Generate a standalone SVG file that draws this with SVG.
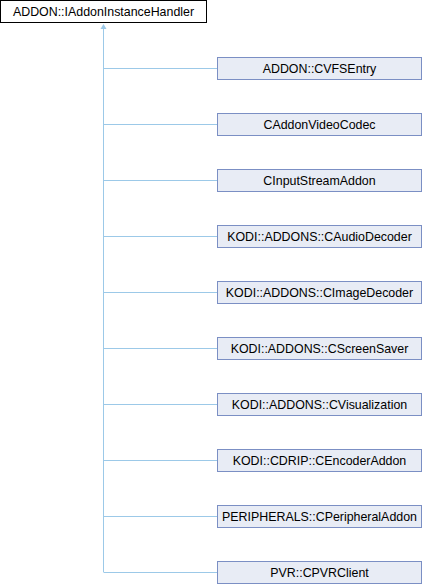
<svg xmlns="http://www.w3.org/2000/svg" width="424" height="584" viewBox="0 0 424 584">
<style>
.base rect{fill:#ffffff;stroke:#000000;stroke-width:1}
.node rect{fill:#e8ecf5;stroke:#7b8fc4;stroke-width:1}
text{font-family:"Liberation Sans",Arial,sans-serif;font-size:12.4px;fill:#000;text-anchor:middle}
.conn line{stroke:#9cc9e8;stroke-width:1}
</style>
<rect width="424" height="584" fill="#ffffff"/>
<g class="conn" id="connectors">
<line x1="103.5" y1="572" x2="103.5" y2="28"/>
<path d="M100.5,29 L103.5,24 L106.5,29 Z" fill="#9cc9e8"/>
<line x1="103.5" y1="68.5" x2="217" y2="68.5"/>
<line x1="103.5" y1="124.5" x2="217" y2="124.5"/>
<line x1="103.5" y1="180.5" x2="217" y2="180.5"/>
<line x1="103.5" y1="236.5" x2="217" y2="236.5"/>
<line x1="103.5" y1="292.5" x2="217" y2="292.5"/>
<line x1="103.5" y1="348.5" x2="217" y2="348.5"/>
<line x1="103.5" y1="404.5" x2="217" y2="404.5"/>
<line x1="103.5" y1="460.5" x2="217" y2="460.5"/>
<line x1="103.5" y1="516.5" x2="217" y2="516.5"/>
<line x1="103.5" y1="572.5" x2="217" y2="572.5"/>
</g>
<g class="base" id="n0"><rect x="0.5" y="0.5" width="206" height="22"/><text x="103.5" y="16">ADDON::IAddonInstanceHandler</text></g>
<g class="node" id="n1"><rect x="217.5" y="57.5" width="204" height="22"/><text x="319.5" y="73">ADDON::CVFSEntry</text></g>
<g class="node" id="n2"><rect x="217.5" y="113.5" width="204" height="22"/><text x="319.5" y="129">CAddonVideoCodec</text></g>
<g class="node" id="n3"><rect x="217.5" y="169.5" width="204" height="22"/><text x="319.5" y="185">CInputStreamAddon</text></g>
<g class="node" id="n4"><rect x="217.5" y="225.5" width="204" height="22"/><text x="319.5" y="241">KODI::ADDONS::CAudioDecoder</text></g>
<g class="node" id="n5"><rect x="217.5" y="281.5" width="204" height="22"/><text x="319.5" y="297">KODI::ADDONS::CImageDecoder</text></g>
<g class="node" id="n6"><rect x="217.5" y="337.5" width="204" height="22"/><text x="319.5" y="353">KODI::ADDONS::CScreenSaver</text></g>
<g class="node" id="n7"><rect x="217.5" y="393.5" width="204" height="22"/><text x="319.5" y="409">KODI::ADDONS::CVisualization</text></g>
<g class="node" id="n8"><rect x="217.5" y="449.5" width="204" height="22"/><text x="319.5" y="465">KODI::CDRIP::CEncoderAddon</text></g>
<g class="node" id="n9"><rect x="217.5" y="505.5" width="204" height="22"/><text x="319.5" y="521">PERIPHERALS::CPeripheralAddon</text></g>
<g class="node" id="n10"><rect x="217.5" y="561.5" width="204" height="22"/><text x="319.5" y="577">PVR::CPVRClient</text></g>
</svg>
